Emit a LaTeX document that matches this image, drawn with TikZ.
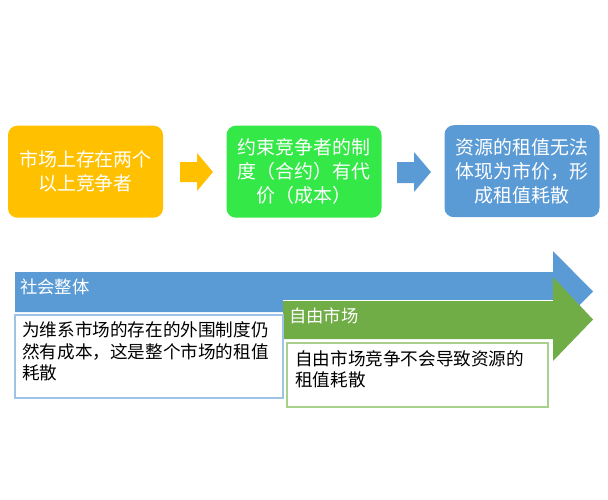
\documentclass[tikz,border=0pt]{standalone}
\usepackage{fontspec}
\setmainfont{Noto Sans CJK SC}
\definecolor{cOrange}{HTML}{FFC000}
\definecolor{cBright}{HTML}{33E847}
\definecolor{cBlue}{HTML}{5B9BD5}
\definecolor{cGreen}{HTML}{70AD47}
\definecolor{cLBlue}{HTML}{9DC3E6}
\definecolor{cLGreen}{HTML}{A9D18E}
\tikzset{
  topbox/.style={rounded corners=7, minimum width=155*0.75pt, minimum height=92*0.75pt, text=white,
    align=center, font=\fontsize{14.2pt}{18pt}\selectfont, inner sep=0},
  lbl/.style={text=white, anchor=west, inner sep=0, font=\fontsize{13pt}{16pt}\selectfont},
  bodytext/.style={text=black, anchor=west, inner sep=0, align=left, font=\fontsize{13.2pt}{16.1pt}\selectfont},
}
\begin{document}
\begin{tikzpicture}[x=0.75pt,y=-0.75pt]
\useasboundingbox (0,0) rectangle (608,500);
% top boxes
\node[topbox, fill=cOrange] (o) at (85.5,171.7) {市场上存在两个\\以上竞争者};
\node[topbox, fill=cBright] (g) at (304,171.7) {约束竞争者的制\\度（合约）有代\\价（成本）};
\node[topbox, fill=cBlue] (b) at (522,171.2) {资源的租值无法\\体现为市价，形\\成租值耗散};
% small block arrows
\fill[cOrange] (180,162) -- (197,162) -- (197,153) -- (213,172) -- (197,191) -- (197,182) -- (180,182) -- cycle;
\fill[cBlue] (397,162) -- (414,162) -- (414,152) -- (431,172) -- (414,192) -- (414,183) -- (397,183) -- cycle;
% big arrows
\fill[cBlue] (15,271) -- (553,271) -- (553,251) -- (593,291.5) -- (553,332) -- (553,312) -- (15,312) -- cycle;
\draw[white, line width=0.5pt] (15,271) -- (553,271);
\fill[cGreen] (283,300) -- (553,300) -- (553,277) -- (593,319.5) -- (553,361) -- (553,339) -- (283,339) -- cycle;
\draw[white, line width=0.5pt] (283,300) -- (553,300);
% white boxes
\node[draw=cLBlue, fill=white, line width=1pt, minimum width=268*0.75pt, minimum height=83*0.75pt, inner sep=0] (wb) at (149,356.5) {};
\node[draw=cLGreen, fill=white, line width=1pt, minimum width=261*0.75pt, minimum height=64*0.75pt, inner sep=0] (wg) at (417.5,375) {};
% labels
\node[lbl] (l1) at (20,287) {社会整体};
\node[lbl] (l2) at (289,316) {自由市场};
\node[bodytext] (t1) at (22,351.5) {为维系市场的存在的外围制度仍\\然有成本，这是整个市场的租值\\耗散};
\node[bodytext] (t2) at (295,369) {自由市场竞争不会导致资源的\\租值耗散};
\end{tikzpicture}
\end{document}
